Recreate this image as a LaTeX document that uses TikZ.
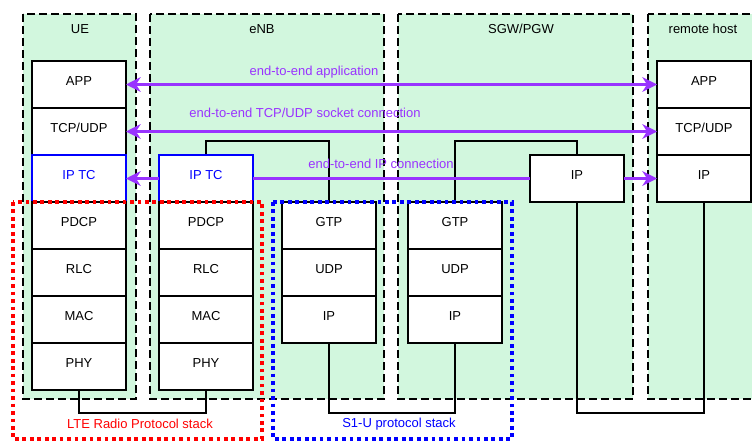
\documentclass[tikz,border=0pt]{standalone}
\usepackage{fontspec}
\setmainfont{Liberation Sans}
\usetikzlibrary{arrows.meta}
\definecolor{zone}{RGB}{210,247,222}
\definecolor{flow}{RGB}{153,51,255}
\definecolor{lteRed}{RGB}{255,0,0}
\definecolor{soneBlue}{RGB}{0,0,255}
\tikzset{flowtip/.tip={Stealth[length=11pt,width=11pt,inset=3.5pt]}}
\begin{document}
\begin{tikzpicture}[x=0.75pt,y=-0.75pt,
  font=\fontsize{9.75}{11}\selectfont,
  zonebox/.style={fill=zone,draw=black,line width=1.3pt,dash pattern=on 6pt off 3pt},
  zonetitle/.style={inner sep=0pt,anchor=center},
  layer/.style={draw=black,fill=white,line width=1.3pt,minimum width=70.5pt,
    minimum height=35.25pt,inner sep=0pt,outer sep=0pt,text height=7pt,text depth=5pt},
  tclayer/.style={layer,draw=soneBlue,text=soneBlue},
  link/.style={draw=black,line width=1.3pt},
  flowline/.style={draw=flow,line width=1.6pt},
  flowtext/.style={text=flow,inner sep=0pt},
  groupbox/.style={line width=3pt,dash pattern=on 2.8pt off 2.8pt},
  grouptext/.style={inner sep=0pt}
]
\useasboundingbox (0,0) rectangle (752,443);

% network element zones
\draw[zonebox] (23,14) rectangle (136,399);
\draw[zonebox] (150,14) rectangle (384,399);
\draw[zonebox] (398,14) rectangle (633,399);
\draw[zonebox] (648,14) rectangle (800,399);
\node[zonetitle] (tue) at (80,29) {UE};
\node[zonetitle] (tenb) at (262,29) {eNB};
\node[zonetitle] (tsgw) at (521,29) {SGW/PGW};
\node[zonetitle] (trh) at (703,29) {remote host};

% links between peer layers
\draw[link] (79,390) -- (79,413) -| (206,390);
\draw[link] (206,155) -- (206,141) -| (329,202);
\draw[link] (329,343) -- (329,413) -| (455,343);
\draw[link] (455,202) -- (455,141) -| (577,155);
\draw[link] (577,202) -- (577,413) -| (704,202);

% UE stack
\node[layer] (ueapp) at (79,84.5) {APP};
\node[layer] (uetcp) at (79,131.5) {TCP/UDP};
\node[tclayer] (ueiptc) at (79,178.5) {IP TC};
\node[layer] (uepdcp) at (79,225.5) {PDCP};
\node[layer] (uerlc) at (79,272.5) {RLC};
\node[layer] (uemac) at (79,319.5) {MAC};
\node[layer] (uephy) at (79,366.5) {PHY};

% eNB radio stack
\node[tclayer] (enbiptc) at (206,178.5) {IP TC};
\node[layer] (enbpdcp) at (206,225.5) {PDCP};
\node[layer] (enbrlc) at (206,272.5) {RLC};
\node[layer] (enbmac) at (206,319.5) {MAC};
\node[layer] (enbphy) at (206,366.5) {PHY};

% eNB S1-U stack
\node[layer] (enbgtp) at (329,225.5) {GTP};
\node[layer] (enbudp) at (329,272.5) {UDP};
\node[layer] (enbip) at (329,319.5) {IP};

% SGW/PGW stacks
\node[layer] (sgwgtp) at (455,225.5) {GTP};
\node[layer] (sgwudp) at (455,272.5) {UDP};
\node[layer] (sgwsip) at (455,319.5) {IP};
\node[layer] (sgwip) at (577,178.5) {IP};

% remote host stack
\node[layer] (rhapp) at (704,84.5) {APP};
\node[layer] (rhtcp) at (704,131.5) {TCP/UDP};
\node[layer] (rhip) at (704,178.5) {IP};

% end-to-end connections
\draw[flowline,flowtip-flowtip] (ueapp.east) -- (rhapp.west);
\draw[flowline,flowtip-flowtip] (uetcp.east) -- (rhtcp.west);
\draw[flowline,-flowtip] (enbiptc.west) -- (ueiptc.east);
\draw[flowline] (enbiptc.east) -- (sgwip.west);
\draw[flowline,-flowtip] (sgwip.east) -- (rhip.west);
\node[flowtext] (lapp) at (314,72) {end-to-end application};
\node[flowtext] (ltcp) at (305,113) {end-to-end TCP/UDP socket connection};
\node[flowtext] (lip) at (381,164) {end-to-end IP connection};

% protocol stack groupings
\draw[groupbox,draw=lteRed] (13,202) rectangle (262,439);
\draw[groupbox,draw=soneBlue] (273,202) rectangle (512,439);
\node[grouptext,text=lteRed] (glte) at (140,424) {LTE Radio Protocol stack};
\node[grouptext,text=soneBlue] (gs1u) at (399,424) {S1-U protocol stack};
\end{tikzpicture}
\end{document}
